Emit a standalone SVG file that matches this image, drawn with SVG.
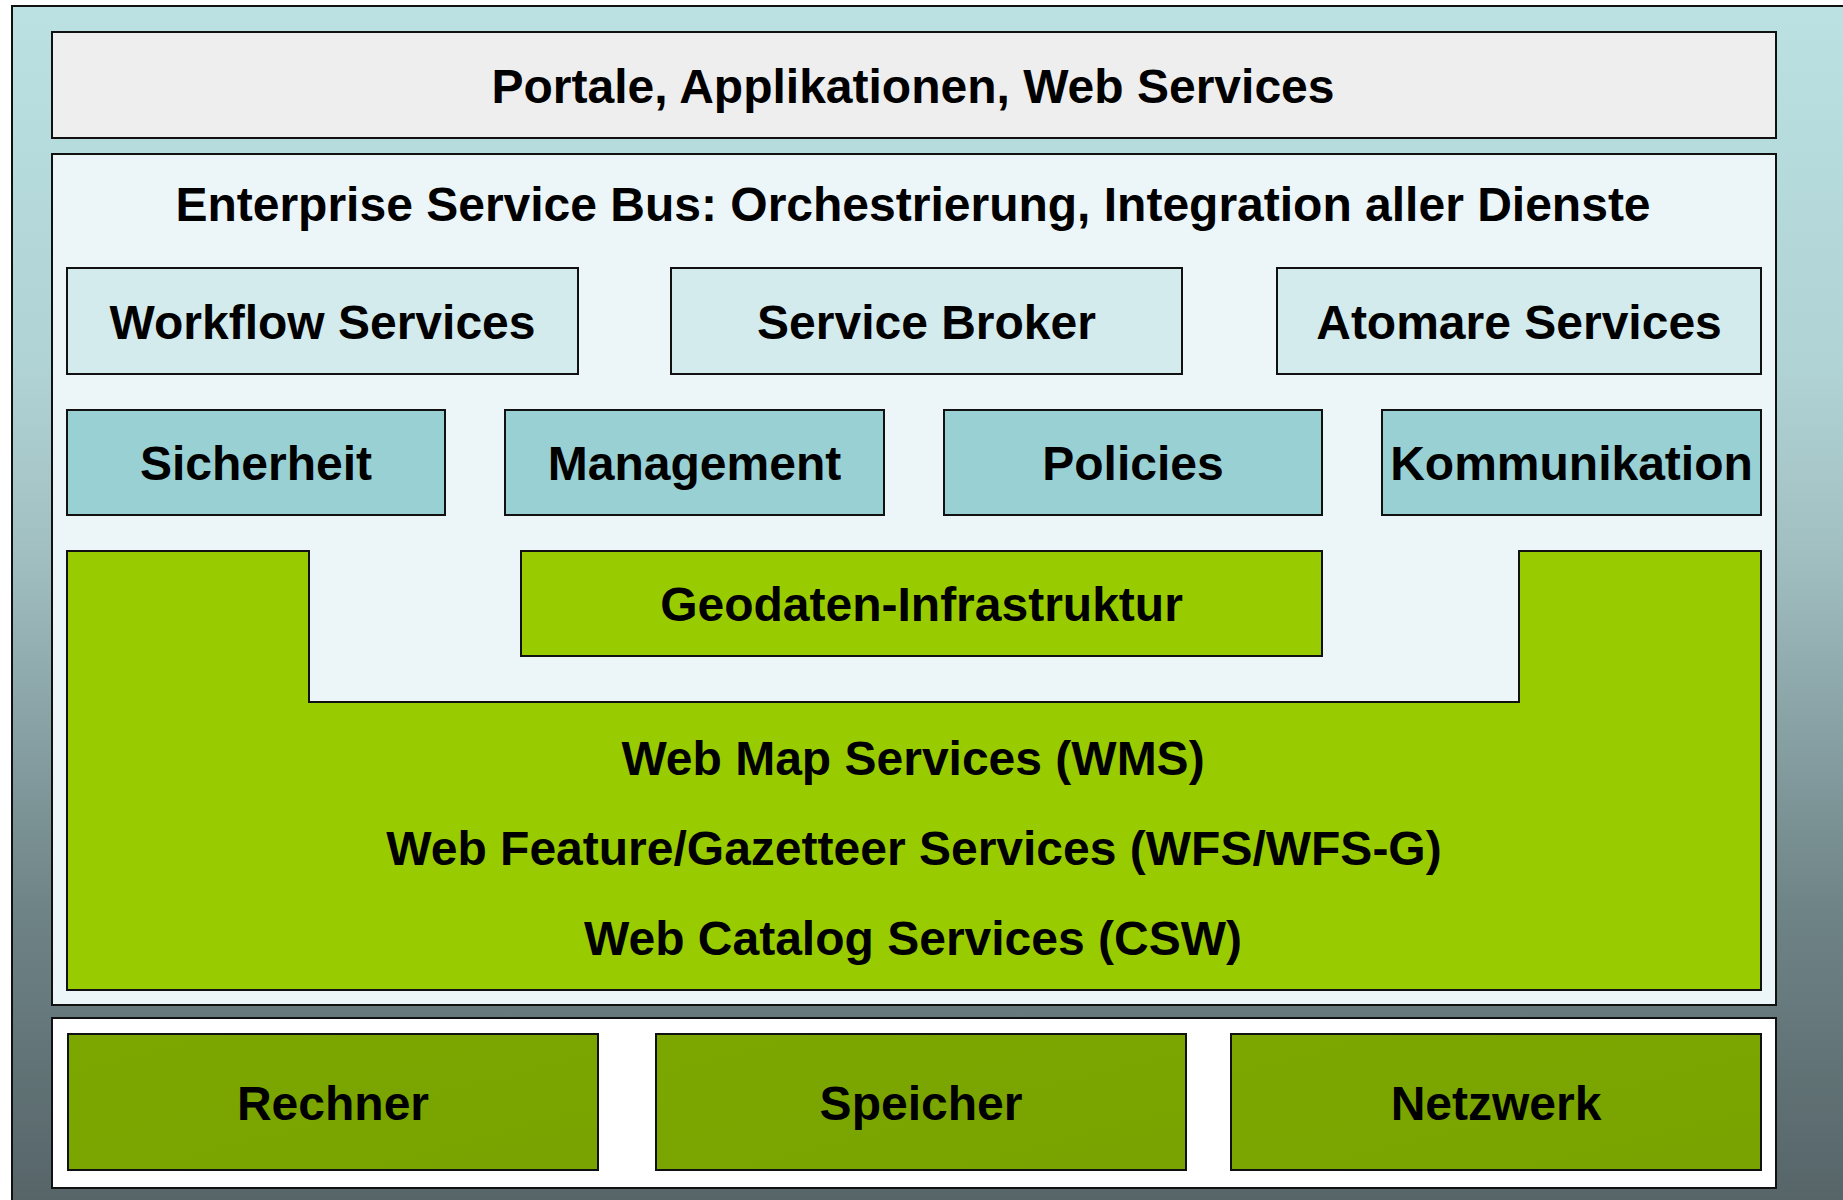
<svg xmlns="http://www.w3.org/2000/svg" width="1843" height="1200" viewBox="0 0 1843 1200">
<defs>
<linearGradient id="bg" x1="0" y1="0" x2="0" y2="1">
<stop offset="0" stop-color="#bbe1e3"/>
<stop offset="0.3" stop-color="#b0d3d5"/>
<stop offset="0.45" stop-color="#a2c0c2"/>
<stop offset="0.75" stop-color="#6f8487"/>
<stop offset="1" stop-color="#566468"/>
</linearGradient>
<linearGradient id="dg" x1="0" y1="0" x2="1" y2="1">
<stop offset="0" stop-color="#7ca700"/>
<stop offset="1" stop-color="#79a300"/>
</linearGradient>
</defs>
<style>
.b{stroke:#111;stroke-width:2}
.t{font-family:"Liberation Sans",Arial,sans-serif;font-weight:bold;font-size:48px;fill:#000;text-anchor:middle}
.l1{fill:#d3ebed}
.l2{fill:#98d0d4}
.gr{fill:#99cc00}
.dk{fill:url(#dg)}
</style>
<rect x="0" y="0" width="1843" height="1200" fill="#ffffff"/>
<rect id="frame" x="12" y="6" width="1840" height="1200" fill="url(#bg)" class="b"/>
<g id="connectors"/>
<g id="portale">
<rect x="52" y="32" width="1724" height="106" fill="#eeeeee" class="b"/>
<text class="t" x="913" y="103">Portale, Applikationen, Web Services</text>
</g>
<g id="esb">
<rect x="52" y="154" width="1724" height="851" fill="#ecf5f7" class="b"/>
<text class="t" x="913" y="221">Enterprise Service Bus: Orchestrierung, Integration aller Dienste</text>
</g>
<g id="workflow">
<rect x="67" y="268" width="511" height="106" class="l1 b"/>
<text class="t" x="322.5" y="339">Workflow Services</text>
</g>
<g id="broker">
<rect x="671" y="268" width="511" height="106" class="l1 b"/>
<text class="t" x="926.5" y="339">Service Broker</text>
</g>
<g id="atomare">
<rect x="1277" y="268" width="484" height="106" class="l1 b"/>
<text class="t" x="1519" y="339">Atomare Services</text>
</g>
<g id="sicherheit">
<rect x="67" y="410" width="378" height="105" class="l2 b"/>
<text class="t" x="256" y="480">Sicherheit</text>
</g>
<g id="management">
<rect x="505" y="410" width="379" height="105" class="l2 b"/>
<text class="t" x="694.5" y="480">Management</text>
</g>
<g id="policies">
<rect x="944" y="410" width="378" height="105" class="l2 b"/>
<text class="t" x="1133" y="480">Policies</text>
</g>
<g id="kommunikation">
<rect x="1382" y="410" width="379" height="105" class="l2 b"/>
<text class="t" x="1571.5" y="480">Kommunikation</text>
</g>
<g id="ogc">
<path d="M67,551 H309 V702 H1519 V551 H1761 V990 H67 Z" class="gr b"/>
<text class="t" x="913" y="775">Web Map Services (WMS)</text>
<text class="t" x="914" y="865">Web Feature/Gazetteer Services (WFS/WFS-G)</text>
<text class="t" x="913" y="955">Web Catalog Services (CSW)</text>
</g>
<g id="geodaten">
<rect x="521" y="551" width="801" height="105" class="gr b"/>
<text class="t" x="921.5" y="621">Geodaten-Infrastruktur</text>
</g>
<g id="hardware">
<rect x="52" y="1018" width="1724" height="170" fill="#ffffff" class="b"/>
</g>
<g id="rechner">
<rect x="68" y="1034" width="530" height="136" class="dk b"/>
<text class="t" x="333" y="1120">Rechner</text>
</g>
<g id="speicher">
<rect x="656" y="1034" width="530" height="136" class="dk b"/>
<text class="t" x="921" y="1120">Speicher</text>
</g>
<g id="netzwerk">
<rect x="1231" y="1034" width="530" height="136" class="dk b"/>
<text class="t" x="1496" y="1120">Netzwerk</text>
</g>
</svg>
